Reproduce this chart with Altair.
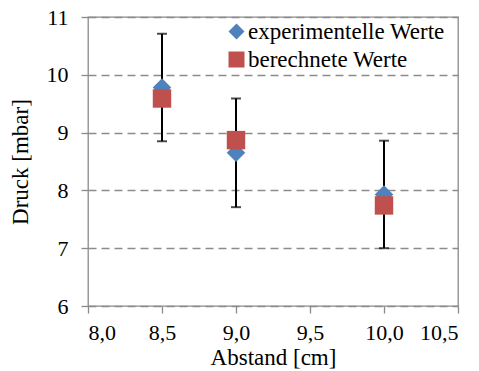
import altair as alt
import pandas as pd

abstand = [8.5, 9.0, 10.0]
exp_werte = [9.78, 8.65, 7.93]
ber_werte = [9.59, 8.87, 7.74]
fehler = [0.93, 0.94, 0.93]
series = ["experimentelle Werte", "berechnete Werte"]

rows = []
for x, y in zip(abstand, exp_werte):
    rows.append({"Abstand": x, "Druck": y, "Serie": series[0]})
for x, y in zip(abstand, ber_werte):
    rows.append({"Abstand": x, "Druck": y, "Serie": series[1]})
df = pd.DataFrame(rows)

err = pd.DataFrame({
    "Abstand": abstand,
    "lo": [v - e for v, e in zip(exp_werte, fehler)],
    "hi": [v + e for v, e in zip(exp_werte, fehler)],
})

FONT = "Liberation Serif"
xscale = alt.Scale(domain=[8.0, 10.5], nice=False, zero=False)
yscale = alt.Scale(domain=[6, 11], nice=False, zero=False)

xaxis = alt.Axis(values=[8.0, 8.5, 9.0, 9.5, 10.0, 10.5],
                 labelExpr="replace(format(datum.value, '.1f'), '.', ',')",
                 title="Abstand [cm]", grid=False)
yaxis = alt.Axis(values=[6, 7, 8, 9, 10, 11], format="d", title="Druck [mbar]",
                 grid=True, gridDash=[8, 5], gridColor="#8c8c8c", gridWidth=1.3)

bars = alt.Chart(err).mark_rule(color="black", strokeWidth=2).encode(
    x=alt.X("Abstand:Q", scale=xscale, axis=xaxis),
    y=alt.Y("lo:Q", scale=yscale, axis=yaxis),
    y2="hi:Q",
)
caps_lo = alt.Chart(err).mark_tick(color="black", orient="horizontal", size=10, thickness=2).encode(
    x=alt.X("Abstand:Q", scale=xscale, axis=xaxis), y=alt.Y("lo:Q", scale=yscale, axis=yaxis))
caps_hi = alt.Chart(err).mark_tick(color="black", orient="horizontal", size=10, thickness=2).encode(
    x=alt.X("Abstand:Q", scale=xscale, axis=xaxis), y=alt.Y("hi:Q", scale=yscale, axis=yaxis))

points = alt.Chart(df).mark_point(filled=True, opacity=1, size=340).encode(
    x=alt.X("Abstand:Q", scale=xscale, axis=xaxis),
    y=alt.Y("Druck:Q", scale=yscale, axis=yaxis),
    shape=alt.Shape("Serie:N", sort=series,
                    scale=alt.Scale(domain=series, range=["diamond", "square"]),
                    legend=alt.Legend(title=None, orient="none", legendX=137, legendY=3,
                                      symbolSize=256, labelFontSize=23,
                                      labelColor="black", rowPadding=4, labelOffset=0,
                                      labelLimit=400, symbolStrokeWidth=0)),
    color=alt.Color("Serie:N", sort=series,
                    scale=alt.Scale(domain=series, range=["#4F81BD", "#C0504D"])),
    order=alt.Order("ord:Q"),
).transform_calculate(ord="datum.Serie == 'experimentelle Werte' ? 0 : 1")

chart = alt.layer(bars, caps_lo, caps_hi, points).properties(
    width=370, height=289,
    autosize=alt.AutoSizeParams(type="none"),
    padding={"left": 80, "top": 9, "right": 10, "bottom": 64},
).configure(font=FONT).configure_view(stroke="#8a8a8a", strokeWidth=1.3).configure_axis(
    labelFont=FONT, titleFont=FONT, labelFontSize=22, titleFontSize=23,
    labelColor="black", titleColor="black", titleFontWeight="normal",
    domainColor="#8a8a8a", tickColor="#8a8a8a", tickSize=7, domainWidth=1.3, tickWidth=1.3,
).configure_axisX(labelPadding=9, titlePadding=3, domain=False).configure_axisY(
    labelPadding=13, titlePadding=14, domain=False).configure_legend(labelFont=FONT)

chart.save("out.html", embed_options={"renderer": "svg", "actions": False})
